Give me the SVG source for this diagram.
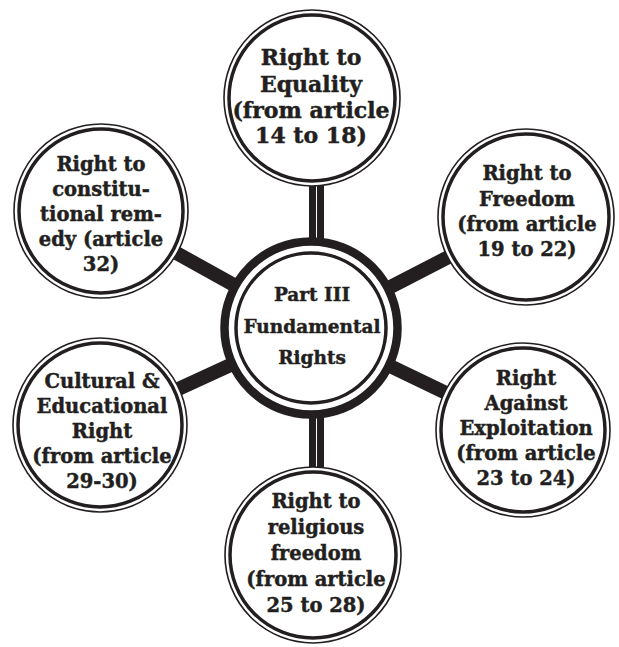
<svg xmlns="http://www.w3.org/2000/svg" width="619" height="647" viewBox="0 0 619 647">
<style>
  .bar { stroke: #231f20; stroke-width: 14; stroke-linecap: butt; fill: none; }
  .outer { fill: #fff; stroke: #231f20; stroke-width: 1.6; }
  .inner { fill: none; stroke: #231f20; stroke-width: 3.5; }
  .cOuter { fill: #fff; stroke: #231f20; stroke-width: 8.5; }
  .cInner { fill: none; stroke: #231f20; stroke-width: 3.5; }
  text { font-family: "DejaVu Serif", "Liberation Serif", serif; font-weight: bold; fill: #231f20; stroke: #231f20; stroke-width: 0.45; text-anchor: middle; }
  .t { font-size: 19.5px; }
  .tb { font-size: 22px; }
  .tc { font-size: 18.5px; }
</style>
<rect width="619" height="647" fill="#fff"/>
<g id="connectors">
  <rect x="309" y="185" width="15" height="60" fill="#231f20"/>
  <line x1="316.5" y1="185" x2="316.5" y2="245" stroke="#fff" stroke-width="1"/>
  <rect x="309" y="410" width="15" height="62" fill="#231f20"/>
  <line x1="316.5" y1="410" x2="316.5" y2="472" stroke="#fff" stroke-width="1"/>
  <line class="bar" x1="101" y1="211" x2="311" y2="328"/>
  <line class="bar" x1="526" y1="217" x2="311" y2="328"/>
  <line class="bar" x1="100" y1="425" x2="311" y2="328"/>
  <line class="bar" x1="523" y1="430" x2="311" y2="328"/>
</g>
<g id="center">
  <circle class="cOuter" cx="311" cy="328" r="86.5"/>
  <circle class="cInner" cx="311" cy="328" r="75"/>
  <text class="tc" x="312" y="301">Part III</text>
  <text class="tc" x="312" y="333">Fundamental</text>
  <text class="tc" x="312" y="364">Rights</text>
</g>
<g id="equality">
  <circle class="outer" cx="312" cy="98" r="88"/>
  <circle class="inner" cx="312" cy="98" r="83"/>
  <text class="tb" x="311" y="65">Right to</text>
  <text class="tb" x="311" y="92">Equality</text>
  <text class="tb" x="311" y="118">(from article</text>
  <text class="tb" x="311" y="143">14 to 18)</text>
</g>
<g id="remedy">
  <circle class="outer" cx="101" cy="211" r="87"/>
  <circle class="inner" cx="101" cy="211" r="82"/>
  <text class="t" x="101" y="171">Right to</text>
  <text class="t" x="101" y="196">constitu-</text>
  <text class="t" x="101" y="221">tional rem-</text>
  <text class="t" x="101" y="246">edy (article</text>
  <text class="t" x="101" y="271">32)</text>
</g>
<g id="freedom">
  <circle class="outer" cx="526" cy="217" r="88"/>
  <circle class="inner" cx="526" cy="217" r="83"/>
  <text class="t" x="527" y="180">Right to</text>
  <text class="t" x="527" y="206">Freedom</text>
  <text class="t" x="527" y="231">(from article</text>
  <text class="t" x="527" y="256">19 to 22)</text>
</g>
<g id="cultural">
  <circle class="outer" cx="100" cy="425" r="87"/>
  <circle class="inner" cx="100" cy="425" r="82"/>
  <text class="t" x="102" y="388">Cultural &amp;</text>
  <text class="t" x="102" y="413">Educational</text>
  <text class="t" x="102" y="438">Right</text>
  <text class="t" x="102" y="463">(from article</text>
  <text class="t" x="102" y="488">29-30)</text>
</g>
<g id="exploitation">
  <circle class="outer" cx="523" cy="430" r="87"/>
  <circle class="inner" cx="523" cy="430" r="82"/>
  <text class="t" x="526" y="385">Right</text>
  <text class="t" x="526" y="410">Against</text>
  <text class="t" x="526" y="435">Exploitation</text>
  <text class="t" x="526" y="460">(from article</text>
  <text class="t" x="526" y="485">23 to 24)</text>
</g>
<g id="religious">
  <circle class="outer" cx="313" cy="555" r="88"/>
  <circle class="inner" cx="313" cy="555" r="83"/>
  <text class="t" x="316" y="508">Right to</text>
  <text class="t" x="316" y="534">religious</text>
  <text class="t" x="316" y="560">freedom</text>
  <text class="t" x="316" y="586">(from article</text>
  <text class="t" x="316" y="612">25 to 28)</text>
</g>
</svg>
